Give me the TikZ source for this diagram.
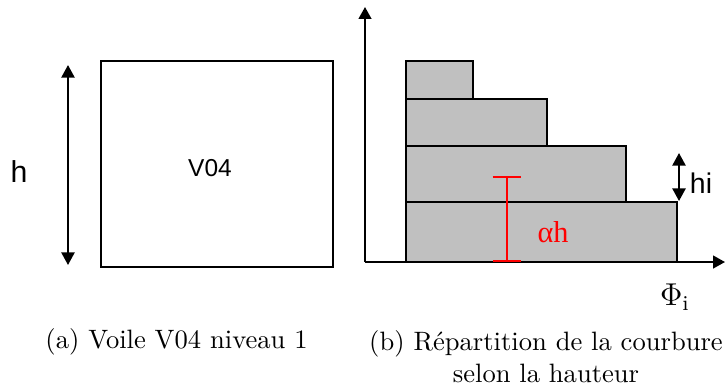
\documentclass[tikz,border=0pt]{standalone}
\usepackage{fontspec}
\usepackage{tikz}
\usetikzlibrary{arrows.meta,positioning}
\newfontfamily\arialfont{Liberation Sans}
\newfontfamily\timesfont{Liberation Serif}
\definecolor{blockgray}{HTML}{C0C0C0}

\begin{document}
\begin{tikzpicture}[x=0.38pt, y=-0.38pt, line width=0.75pt,
    dim/.style={{Triangle[length=4.8pt,width=5pt]}-{Triangle[length=4.8pt,width=5pt]}},
    axis/.style={-{Triangle[length=4.5pt,width=4.8pt]}}]
  \tikzstyle{sans} = [font=\arialfont, inner sep=0pt]
  \tikzstyle{block} = [draw=black, fill=blockgray]
  \useasboundingbox (0,0) rectangle (726,385);

  % (a) le voile
  \draw (101,61) rectangle (333,267);
  \node (wall) [sans, font=\arialfont\fontsize{9.3}{11}\selectfont] at (210,168) {V04};
  \coordinate (htop) at (68,65);
  \coordinate (hbot) at (68,265);
  \draw[dim] (htop) -- (hbot);
  \node (h) [sans, font=\arialfont\fontsize{11.5}{13}\selectfont] at (19,172) {h};

  % (b) repartition
  \coordinate (origin) at (365,262);
  \coordinate (yend) at (365,7);
  \coordinate (xend) at (725,262);
  \draw[axis] (origin) -- (yend);
  \draw[axis] (origin) -- (xend);
  \foreach \r/\t/\b in {677/202/262, 626/146/202, 547/99/146, 473/61/99}
    \draw[block] (406,\t) rectangle (\r,\b);
  \coordinate (hitop) at (679,153);
  \coordinate (hibot) at (679,201);
  \draw[dim] (hitop) -- (hibot);
  \node (hi) [sans, font=\arialfont\fontsize{10.8}{12}\selectfont] at (701,183) {hi};
  \coordinate (ahtop) at (507,176);
  \coordinate (ahbot) at (507,262);
  \draw[red, {Bar[width=11pt]}-{Bar[width=11pt]}] (ahbot) -- (ahtop);
  \node (alphah) [inner sep=0pt, text=red, font=\timesfont\fontsize{11.5}{13}\selectfont] at (553,232) {αh};
  \node (phi) [inner sep=0pt, font=\fontsize{11.5}{13}\selectfont] at (675,297) {$\Phi_{\mathrm{i}}$};

  % legendes
  \node (capa) [inner sep=0pt, font=\fontsize{10.1}{12}\selectfont] at (176.5,342) {(a) Voile V04 niveau 1};
  \node (capb) [inner sep=0pt, align=center, font=\fontsize{10.1}{12}\selectfont] at (546,356.5) {(b) Répartition de la courbure\\selon la hauteur};
\end{tikzpicture}
\end{document}
